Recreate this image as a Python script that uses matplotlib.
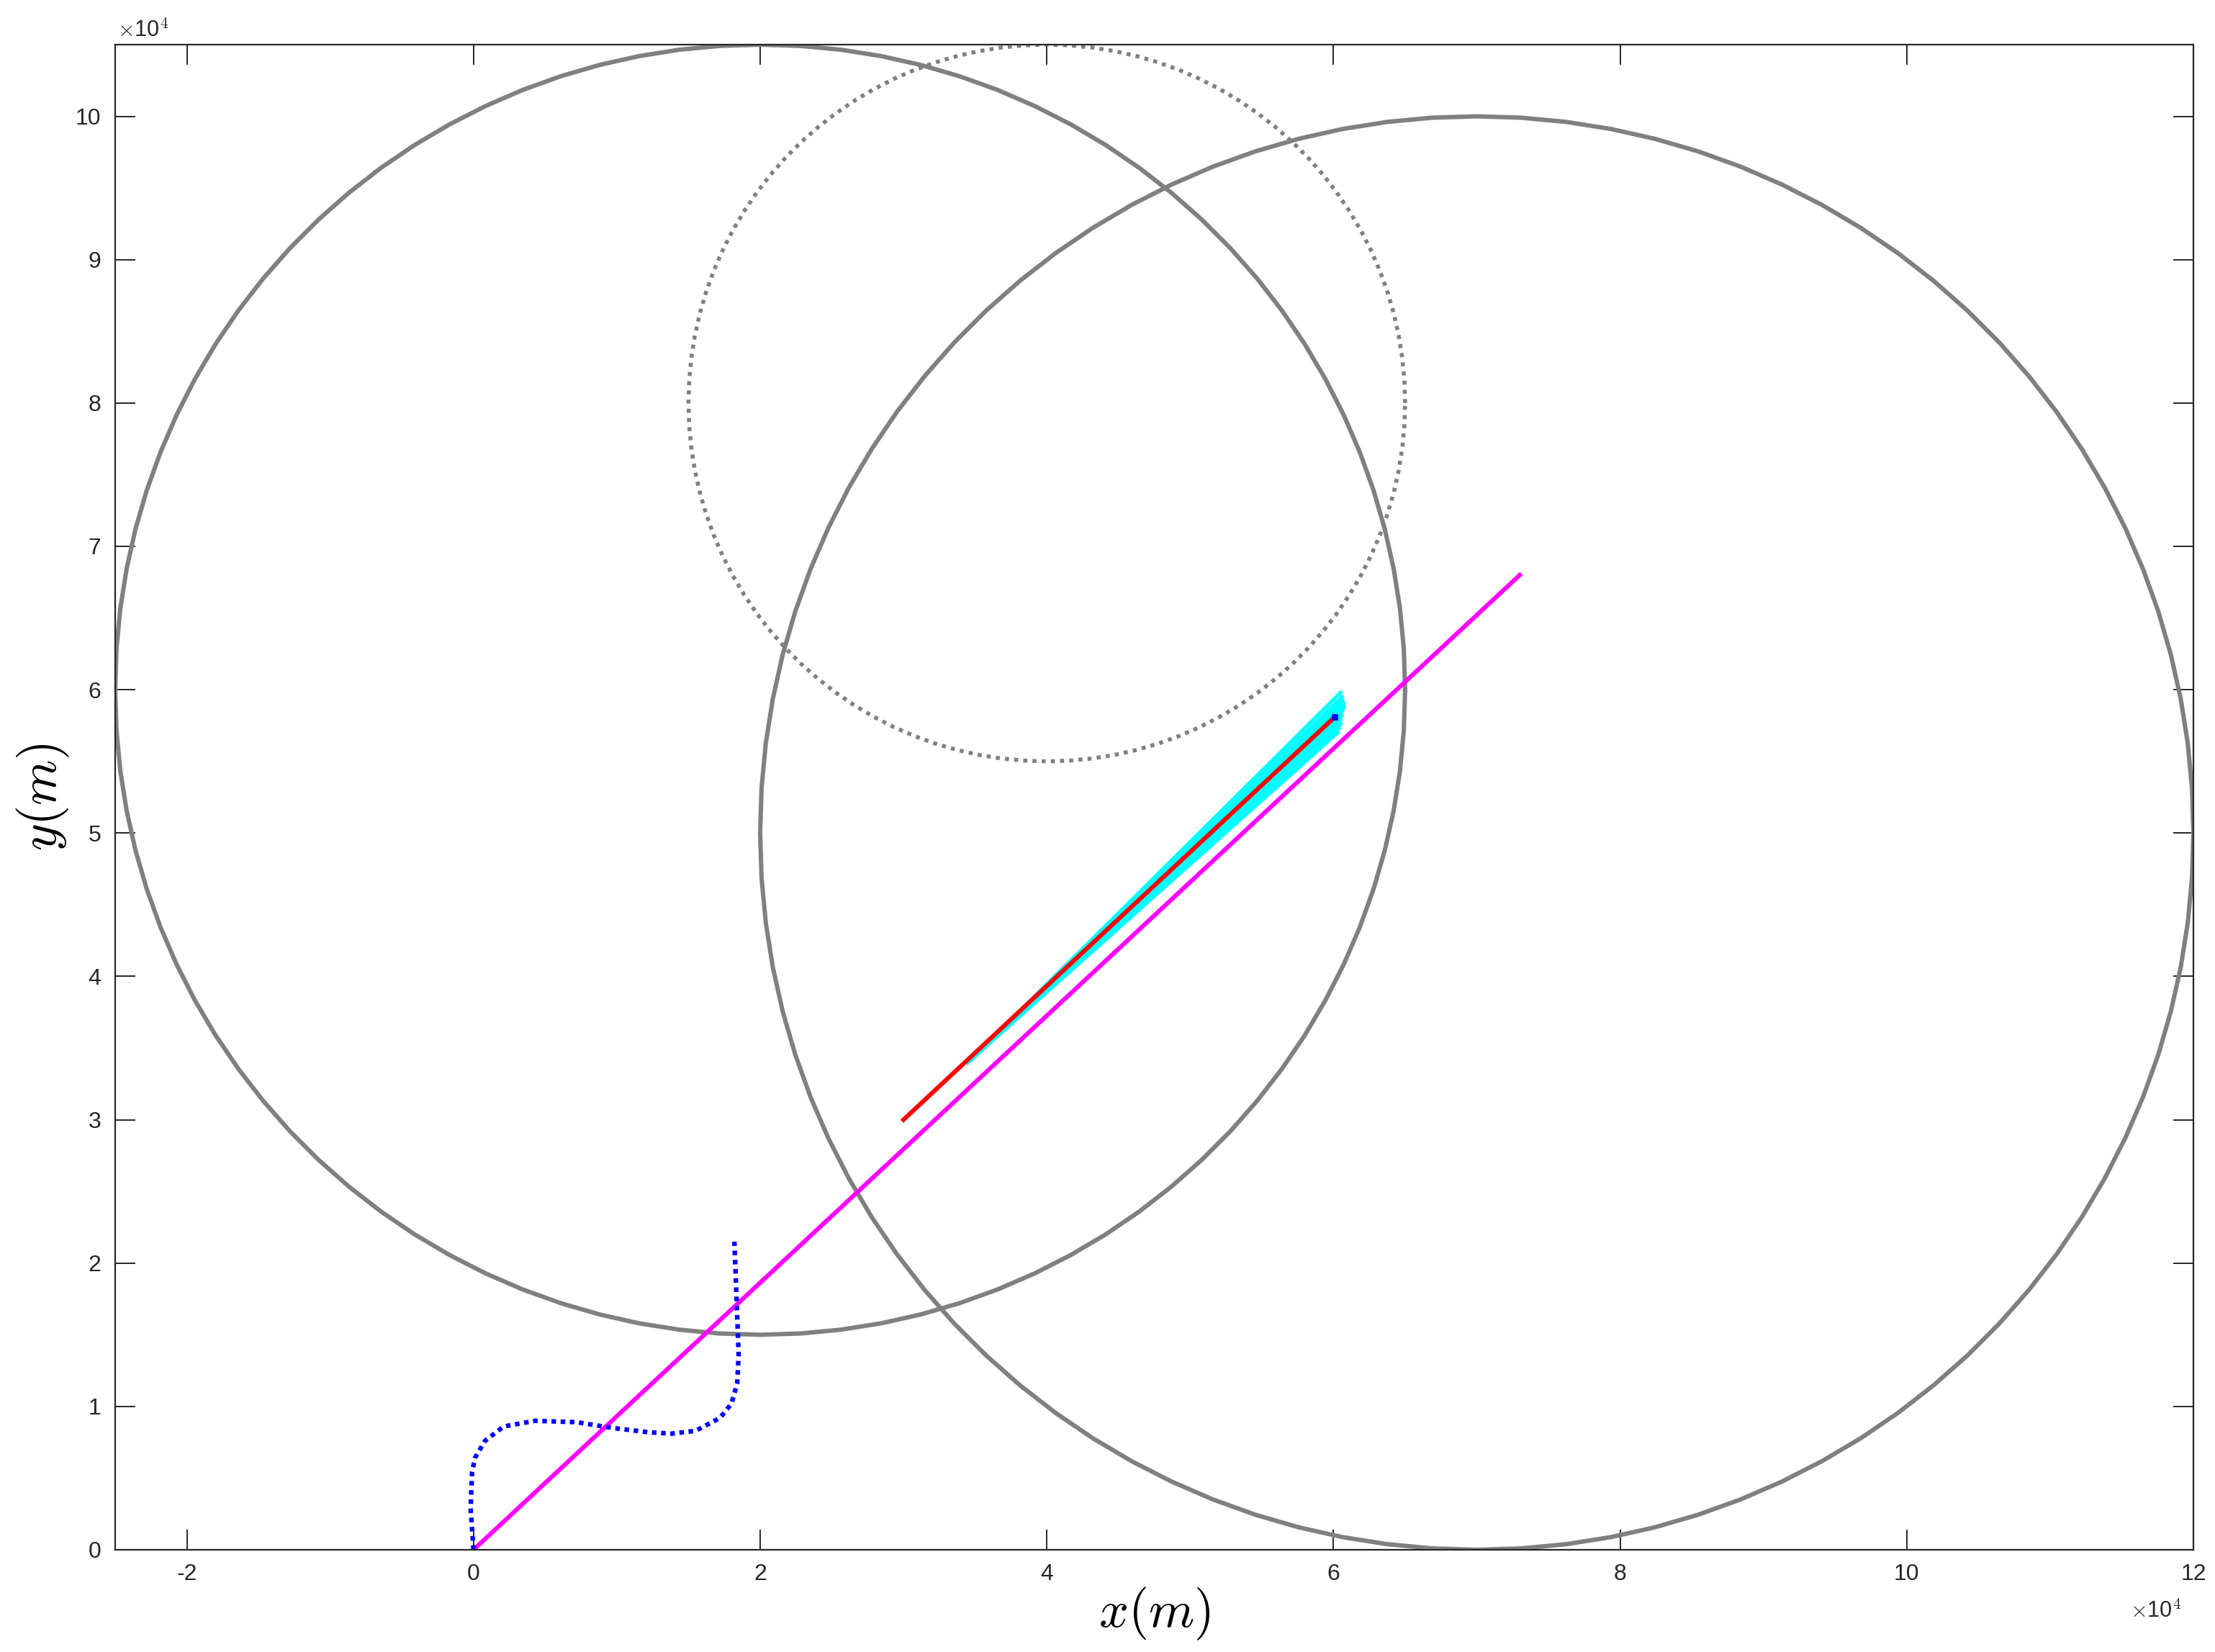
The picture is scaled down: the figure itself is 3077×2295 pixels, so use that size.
import numpy as np
import matplotlib
matplotlib.use("Agg")
import matplotlib.pyplot as plt

plt.rcParams["mathtext.fontset"] = "cm"

# circles: center x, center y, radius (m)
circ_cx = [2.0e4, 7.0e4]
circ_cy = [6.0e4, 5.0e4]
circ_r = [4.5e4, 5.0e4]
dot_cx, dot_cy, dot_r = 4.0e4, 8.0e4, 2.5e4

# straight magenta line
mag_x = [0.0, 7.3e4]
mag_y = [0.0, 6.8e4]

# red estimate
red_x = [3.0e4, 6.01e4]
red_y = [3.0e4, 5.81e4]

# cyan bundle (common start, end points)
cyan_x0, cyan_y0 = 3.45e4, 3.40e4
cyan_end_x = [6.03e4, 6.04e4, 6.05e4, 6.05e4, 6.06e4, 6.06e4, 6.07e4, 6.07e4,
              6.07e4, 6.06e4, 6.06e4, 6.05e4]
cyan_end_y = [5.70e4, 5.73e4, 5.76e4, 5.79e4, 5.82e4, 5.85e4, 5.87e4, 5.89e4,
              5.91e4, 5.93e4, 5.95e4, 5.98e4]

# blue dotted path
blue_x = [0.0, -0.02, -0.01, 0.01, 0.08, 0.21, 0.43, 0.72, 0.97, 1.22, 1.38, 1.55,
          1.72, 1.80, 1.84, 1.85, 1.84, 1.83, 1.82]
blue_y = [0.0, 0.29, 0.54, 0.64, 0.76, 0.86, 0.90, 0.89, 0.85, 0.82, 0.81, 0.83,
          0.92, 1.02, 1.16, 1.36, 1.63, 1.90, 2.15]

xticks = [-2, 0, 2, 4, 6, 8, 10, 12]
yticks = [0, 1, 2, 3, 4, 5, 6, 7, 8, 9, 10]

W, H, DPI = 3077, 2295, 200
fig = plt.figure(figsize=(W / DPI, H / DPI), dpi=DPI)
ax = fig.add_axes([160 / W, 1 - 2153 / H, (3047 - 160) / W, (2153 - 62) / H])

gray = (0.5, 0.5, 0.5)
t = np.linspace(0, 2 * np.pi, 101)
for cx, cy, r in zip(circ_cx, circ_cy, circ_r):
    ax.plot(cx + r * np.cos(t), cy + r * np.sin(t), color=gray, lw=2.2)
ax.plot(dot_cx + dot_r * np.cos(t), dot_cy + dot_r * np.sin(t), color=gray, lw=2.0,
        linestyle=(0, (1, 1.3)), dash_capstyle="butt")

ax.plot(mag_x, mag_y, color=(1, 0, 1), lw=2.2)

bx = np.array(blue_x) * 1e4
by = np.array(blue_y) * 1e4
ax.plot(bx, by, color=(0, 0, 1), lw=2.3, linestyle=(0, (1, 1.0)), dash_capstyle="butt")

for ex, ey in zip(cyan_end_x, cyan_end_y):
    ax.plot([cyan_x0, ex], [cyan_y0, ey], color=(0, 1, 1), lw=1.8)

ax.plot(red_x, red_y, color=(1, 0, 0), lw=2.2)
ax.plot(red_x[-1], red_y[-1], "s", color=(0, 0, 1), ms=2.5)

ax.set_xlim(-2.5e4, 12e4)
ax.set_ylim(0, 10.5e4)
ax.set_xticks([v * 1e4 for v in xticks])
ax.set_yticks([v * 1e4 for v in yticks])
ax.set_xticklabels([str(v) for v in xticks])
ax.set_yticklabels([str(v) for v in yticks])

dark = (0.15, 0.15, 0.15)
ax.tick_params(direction="in", length=10, width=0.7, colors=dark, labelsize=11.5,
               top=True, right=True, pad=7)
for s in ax.spines.values():
    s.set_color(dark)
    s.set_linewidth(0.8)
for lab in ax.get_xticklabels() + ax.get_yticklabels():
    lab.set_family("Liberation Sans")

ax.set_xlabel(r"$x(m)$", fontsize=26, labelpad=0)
ax.set_ylabel(r"$y(m)$", fontsize=26, labelpad=2)

fig.text(163 / W, 1 - 42 / H, r"$\times$10$^4$", fontsize=11, color=dark,
         family="Liberation Sans", ha="left", va="center")
fig.text(3030 / W, 1 - 2238 / H, r"$\times$10$^4$", fontsize=11, color=dark,
         family="Liberation Sans", ha="right", va="center")

fig.savefig("out.png", dpi=DPI, facecolor="white")
